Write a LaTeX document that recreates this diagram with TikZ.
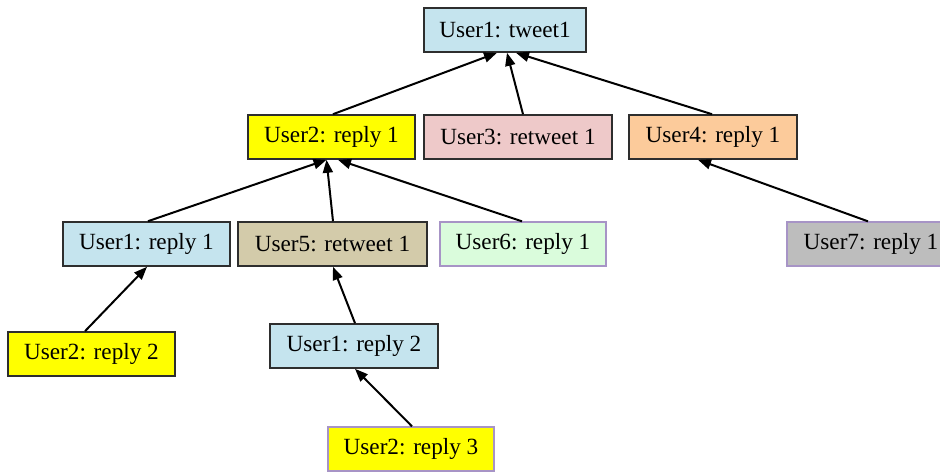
\documentclass[tikz,border=0pt]{standalone}
\usepackage{fontspec}
\setmainfont{Liberation Serif}
\usetikzlibrary{arrows.meta}
\definecolor{cblue}{HTML}{C5E4EE}
\definecolor{cyellow}{HTML}{FFFF00}
\definecolor{cpink}{HTML}{EEC9C9}
\definecolor{cpeach}{HTML}{FCCB9B}
\definecolor{ctan}{HTML}{D3CBAA}
\definecolor{cgreen}{HTML}{DAFCDC}
\definecolor{cgray}{HTML}{BDBDBD}
\definecolor{cedge}{HTML}{2E2E2E}
\definecolor{cpurple}{HTML}{A794C6}
\tikzset{
  msg/.style={draw=cedge, line width=1.6pt, minimum height=44pt, inner sep=0pt,
    font=\fontsize{23.2}{25}\selectfont},
  soft/.style={draw=cpurple, line width=1.3pt},
  link/.style={line width=2pt, -{Triangle[length=13pt,width=10pt]}}
}
\begin{document}
\begin{tikzpicture}[x=1pt,y=-1pt]
\useasboundingbox (0,0) rectangle (940,472);
% conversation tree nodes
\node[msg, fill=cblue,   minimum width=162pt] (t1)   at (505,30)   {User1: tweet1};
\node[msg, fill=cyellow, minimum width=167pt] (u2r1) at (331.5,137) {User2: reply 1};
\node[msg, fill=cpink,   minimum width=188pt] (u3)   at (518,137)  {User3: retweet 1};
\node[msg, fill=cpeach,  minimum width=168pt] (u4)   at (713,137)  {User4: reply 1};
\node[msg, fill=cblue,   minimum width=167pt] (u1r1) at (146.5,244) {User1: reply 1};
\node[msg, fill=ctan,    minimum width=189pt] (u5)   at (332.5,244) {User5: retweet 1};
\node[msg, soft, fill=cgreen, minimum width=166pt] (u6) at (523,244) {User6: reply 1};
\node[msg, soft, fill=cgray,  minimum width=168pt] (u7) at (871,244) {User7: reply 1};
\node[msg, fill=cyellow, minimum width=167pt] (u2r2) at (91.5,354) {User2: reply 2};
\node[msg, fill=cblue,   minimum width=168pt] (u1r2) at (354,346)  {User1: reply 2};
\node[msg, soft, fill=cyellow, minimum width=166pt] (u2r3) at (411,449) {User2: reply 3};
% reply / retweet links, child to parent
\draw[link] ([xshift=1.5pt]u2r1.north) -- ([xshift=-8pt]t1.south);
\draw[link] ([xshift=5pt]u3.north)     -- ([xshift=2pt]t1.south);
\draw[link] ([xshift=-1pt]u4.north)    -- ([xshift=11pt]t1.south);
\draw[link] ([xshift=1.5pt]u1r1.north) -- ([xshift=-5pt]u2r1.south);
\draw[link] ([xshift=0.5pt]u5.north)   -- ([xshift=-5pt]u2r1.south);
\draw[link] ([xshift=-1pt]u6.north)    -- ([xshift=6.5pt]u2r1.south);
\draw[link] ([xshift=-3pt]u7.north)    -- ([xshift=-15pt]u4.south);
\draw[link] ([xshift=-6.5pt]u2r2.north) -- ([xshift=0.5pt]u1r1.south);
\draw[link] ([xshift=1pt]u1r2.north)   -- ([xshift=0.5pt]u5.south);
\draw[link] ([xshift=1pt]u2r3.north)   -- ([xshift=1pt]u1r2.south);
\end{tikzpicture}
\end{document}
